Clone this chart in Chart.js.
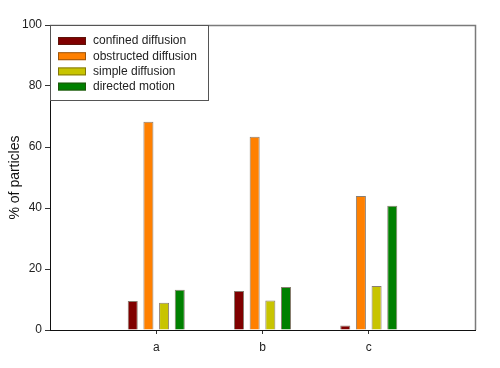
<!DOCTYPE html>
<html>
<head>
<meta charset="utf-8">
<script src="https://cdn.jsdelivr.net/npm/chart.js@4"></script>
<style>
html,body{margin:0;padding:0;background:#fff;}
#wrap{width:500px;height:368px;}
</style>
</head>
<body>
<div id="wrap"><canvas id="c" width="500" height="368"></canvas></div>
<script>
const categories = ['a', 'b', 'c'];
const confined = [9.5, 12.8, 1.5];
const obstructed = [68.3, 63.4, 43.9];
const simple = [8.9, 9.7, 14.4];
const directed = [13.2, 14.1, 40.7];
const yTicks = [0, 20, 40, 60, 80, 100];
const seriesNames = ['confined diffusion', 'obstructed diffusion', 'simple diffusion', 'directed motion'];
const seriesColors = ['#800000', '#ff8000', '#c8c400', '#008000'];

// pad with empty slots so the axis spans 0..4 like the original
const labels = [''].concat(categories, ['']);
const pad = arr => [null].concat(arr, [null]);
const allSeries = [confined, obstructed, simple, directed];

const datasets = allSeries.map((s, i) => ({
  label: seriesNames[i],
  data: pad(s),
  backgroundColor: seriesColors[i],
  borderColor: 'rgba(60,40,20,0.6)',
  borderWidth: 1,
  categoryPercentage: 0.59,
  barPercentage: 0.64
}));

const framePlugin = {
  id: 'frame',
  afterDatasetsDraw(chart) {
    const {ctx, chartArea: a} = chart;
    ctx.save();
    ctx.strokeStyle = '#7a7a7a';
    ctx.lineWidth = 1.5;
    ctx.beginPath();
    ctx.moveTo(a.left, a.top + 0.5);
    ctx.lineTo(a.right + 0.5, a.top + 0.5);
    ctx.lineTo(a.right + 0.5, a.bottom);
    ctx.stroke();
    ctx.restore();
  },
  afterDraw(chart) {
    const {ctx, chartArea: a} = chart;
    const ds = chart.data.datasets;
    ctx.save();
    // legend box
    const bx = a.left, by = a.top, bw = 158, bh = 75;
    ctx.fillStyle = '#fff';
    ctx.fillRect(bx, by, bw, bh);
    ctx.strokeStyle = '#555';
    ctx.lineWidth = 1;
    ctx.strokeRect(bx + 0.5, by + 0.5, bw, bh);
    ctx.font = '12px "Liberation Sans", Arial, sans-serif';
    ctx.textBaseline = 'middle';
    ds.forEach((d, i) => {
      const cy = by + 16 + i * 15.2;
      ctx.fillStyle = d.backgroundColor;
      ctx.fillRect(bx + 8, cy - 4, 28, 8);
      ctx.strokeStyle = 'rgba(60,40,20,0.5)';
      ctx.strokeRect(bx + 8.5, cy - 3.5, 27, 7);
      ctx.fillStyle = '#222';
      ctx.fillText(d.label, bx + 43, cy);
    });
    ctx.restore();
  }
};

new Chart(document.getElementById('c'), {
  type: 'bar',
  data: { labels: labels, datasets: datasets },
  options: {
    responsive: false,
    animation: false,
    devicePixelRatio: 1,
    layout: { padding: { left: 0, top: 25, right: 25, bottom: 0 } },
    plugins: { legend: { display: false }, tooltip: { enabled: false } },
    scales: {
      x: {
        offset: false,
        afterFit(s) { s.height = 38; },
        grid: {
          display: true,
          offset: false,
          drawOnChartArea: false,
          drawTicks: true,
          tickLength: 4,
          tickColor: ctx => (labels[ctx.index] ? '#333' : 'rgba(0,0,0,0)')
        },
        border: { display: true, color: '#111', width: 1 },
        ticks: {
          color: '#222',
          font: { family: '"Liberation Sans", Arial, sans-serif', size: 12 },
          padding: 6,
          autoSkip: false,
          maxRotation: 0
        }
      },
      y: {
        min: 0, max: 100,
        afterFit(s) { s.width = 50; },
        afterBuildTicks(s) { s.ticks = yTicks.map(v => ({ value: v })); },
        grid: {
          display: true,
          drawOnChartArea: false,
          drawTicks: true,
          tickLength: 5,
          tickColor: '#333'
        },
        border: { display: true, color: '#111', width: 1 },
        ticks: {
          color: '#222',
          font: { family: '"Liberation Sans", Arial, sans-serif', size: 12 },
          padding: 3
        },
        title: {
          display: true,
          text: '% of particles',
          color: '#111',
          font: { family: '"Liberation Sans", Arial, sans-serif', size: 14 },
          padding: { top: 7, bottom: 0 }
        }
      }
    }
  },
  plugins: [framePlugin]
});
</script>
</body>
</html>
